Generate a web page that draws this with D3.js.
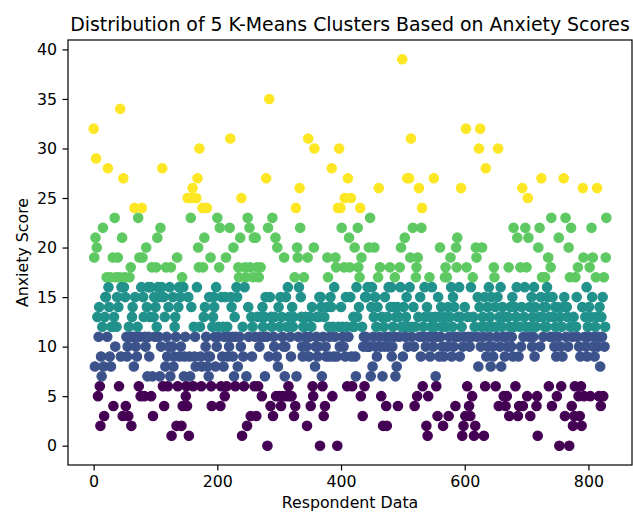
<!DOCTYPE html>
<html>
<head>
<meta charset="utf-8">
<script src="https://cdn.jsdelivr.net/npm/d3@7/dist/d3.min.js"></script>
<style>
    body { margin: 0; background: #fff; }
    text { font-family: "DejaVu Sans", sans-serif; }
</style>
</head>
<body>
<div id="chart"></div>
<script>
// anxiety score of each respondent, in respondent order
let scores = [
    32,19,8,21,29,20,13,5,11,14, 6,2,9,7,12,22,8,3,13,15,
    15,17,11,28,16,14,9,17,8,12, 12,19,4,13,23,10,17,12,15,19,
    14,6,17,34,9,16,21,3,27,16, 17,15,4,11,9,10,3,12,17,11,
    18,2,13,14,11,8,24,15,10,11, 9,12,23,6,19,11,5,16,24,19,
    15,13,5,11,10,20,14,7,16,11, 9,13,16,5,18,7,3,13,15,11,
    14,18,12,21,16,11,15,7,22,10, 16,28,6,15,4,13,8,18,11,9,
    6,14,10,16,7,18,1,10,15,8, 9,12,13,11,2,19,6,14,16,9,
    15,10,2,17,4,16,7,9,11,5, 6,4,25,15,1,9,7,23,14,25,
    26,6,12,9,11,8,25,16,27,20, 18,30,12,9,6,8,24,18,13,21,
    14,10,11,24,8,9,7,15,9,19, 6,4,12,13,15,14,11,8,16,10,
    23,11,12,18,22,4,6,15,9,12, 8,11,5,15,19,6,12,9,11,10,
    22,31,15,14,11,9,20,7,13,6, 11,16,15,8,18,17,11,21,10,25,
    1,12,9,6,16,18,17,7,2,23, 14,11,22,18,3,13,9,12,17,21,
    6,11,21,3,18,13,6,17,10,11, 18,13,5,14,12,11,13,7,15,27,
    11,0,22,9,35,15,4,13,12,23, 3,11,10,13,21,5,9,20,8,14,
    5,12,15,4,13,11,5,10,19,7, 10,15,5,12,16,6,13,5,11,9,
    5,14,12,13,3,17,4,24,7,20, 19,11,16,26,22,15,13,10,9,12,
    17,12,11,13,10,2,19,31,9,11, 13,4,12,14,6,5,20,30,8,10,
    11,13,9,10,13,15,0,15,14,7, 6,11,3,13,4,10,9,14,19,17,
    12,9,11,15,14,28,5,12,9,16, 11,19,18,9,0,24,12,30,10,24,
    14,22,12,11,10,18,25,9,15,12, 6,27,11,21,18,15,25,9,6,12,
    13,12,20,9,7,16,13,22,18,14, 17,24,5,19,12,3,10,11,6,15,
    11,15,10,16,10,20,10,23,7,14, 16,8,11,13,20,15,10,12,9,14,
    17,26,11,18,10,5,13,7,2,12, 10,15,11,4,2,13,10,16,11,18,
    14,16,9,10,12,14,11,17,7,13, 8,14,4,13,11,18,16,20,12,39,
    9,14,12,21,11,13,15,27,10,12, 27,16,19,31,11,12,22,14,10,4,
    12,17,18,5,19,13,26,11,15,9, 22,24,6,12,11,16,13,10,2,14,
    1,5,11,17,9,13,12,16,11,10, 27,12,13,7,6,11,3,15,13,9,
    20,11,14,12,10,2,9,13,17,18, 12,17,10,14,3,11,13,19,16,9,
    12,15,10,14,11,4,20,18,21,13, 11,16,9,13,26,12,1,10,2,11,
    14,3,32,18,6,13,11,4,10,3, 16,11,5,17,13,1,12,2,20,19,
    11,15,8,30,14,32,10,12,20,13, 11,1,15,6,28,9,12,14,10,16,
    11,13,8,15,12,10,9,18,17,14, 6,12,11,15,30,4,13,10,16,8,
    12,14,11,5,13,9,4,11,5,10, 13,18,3,12,14,10,11,15,9,22,
    12,14,6,13,16,21,3,9,4,12, 18,10,14,26,4,11,13,16,22,12,
    18,5,25,21,11,14,3,12,15,10, 13,11,16,9,14,12,4,5,1,20,
    13,22,10,15,27,17,13,11,14,12, 17,14,12,16,15,19,6,13,11,18,
    23,4,15,11,13,10,14,12,9,5, 14,11,21,0,13,10,6,12,9,14,
    27,15,3,23,11,14,13,10,20,0, 17,12,22,4,11,2,13,3,6,17,
    12,15,11,18,5,10,3,9,6,2, 14,26,19,5,11,13,10,16,9,12,
    11,14,18,5,13,22,15,19,10,11, 9,12,17,13,26,10,11,5,14,8,
    4,13,11,15,5,17,10,12,19,23
];

// lowest score of clusters 1..4 (cluster 0 starts at 0)
let clusterBreaks = [7, 12, 17, 24];
let clusterColors = ["#440154", "#3b528b", "#21918c", "#5ec962", "#fde725"];

let xTicks = [0, 200, 400, 600, 800];
let yTicks = [0, 5, 10, 15, 20, 25, 30, 35, 40];

let title = "Distribution of 5 K-Means Clusters Based on Anxiety Scores";
let xLabel = "Respondent Data";
let yLabel = "Anxiety Score";

function renderScatter(element, width, height) {
    d3.select(element).selectAll('*').remove();

    let left = 68, right = 632, top = 40, bottom = 465;
    let tick = 5.5, fontSize = 15.8;

    let svg = d3.select(element).append('svg')
        .attr('width', width)
        .attr('height', height);

    // matplotlib style 5% margins
    let n = scores.length - 1;
    let x = d3.scaleLinear()
        .domain([-0.05 * n, 1.05 * n])
        .range([left, right]);

    let yMin = d3.min(scores), yMax = d3.max(scores), pad = 0.05 * (yMax - yMin);
    let y = d3.scaleLinear()
        .domain([yMin - pad, yMax + pad])
        .range([bottom, top]);

    let color = d3.scaleThreshold()
        .domain(clusterBreaks)
        .range(clusterColors);

    //points
    svg.append("g")
        .selectAll("circle")
        .data(scores)
        .enter().append("circle")
        .attr("cx", function(d, i) { return x(i); })
        .attr("cy", function(d) { return y(d); })
        .attr("r", 4.7)
        .attr("fill", function(d) { return color(d); })
        .attr("stroke", function(d) { return color(d); })
        .attr("stroke-width", 1.2);

    //axes
    let xAxis = svg.append("g")
        .attr("transform", "translate(0," + bottom + ")")
        .call(d3.axisBottom(x).tickValues(xTicks).tickSize(tick).tickPadding(tick));

    let yAxis = svg.append("g")
        .attr("transform", "translate(" + left + ",0)")
        .call(d3.axisLeft(y).tickValues(yTicks).tickSize(tick).tickPadding(tick));

    [xAxis, yAxis].forEach(function(a) {
        a.select(".domain").remove();
        a.selectAll("line").attr("stroke", "#000").attr("stroke-width", 1.2);
        a.selectAll("text")
            .attr("fill", "#000")
            .attr("font-size", fontSize)
            .attr("font-family", "DejaVu Sans");
    });

    //frame
    svg.append("rect")
        .attr("x", left)
        .attr("y", top)
        .attr("width", right - left)
        .attr("height", bottom - top)
        .attr("fill", "none")
        .attr("stroke", "#000")
        .attr("stroke-width", 1.2);

    //text
    svg.append("text")
        .attr("x", (left + right) / 2)
        .attr("y", 31)
        .attr("text-anchor", "middle")
        .attr("font-size", 18.9)
        .text(title);

    svg.append("text")
        .attr("x", (left + right) / 2)
        .attr("y", 508)
        .attr("text-anchor", "middle")
        .attr("font-size", fontSize)
        .text(xLabel);

    svg.append("text")
        .attr("transform", "translate(28," + (top + bottom) / 2 + ") rotate(-90)")
        .attr("text-anchor", "middle")
        .attr("font-size", fontSize)
        .text(yLabel);
}

renderScatter("#chart", 633, 513);
</script>
</body>
</html>
